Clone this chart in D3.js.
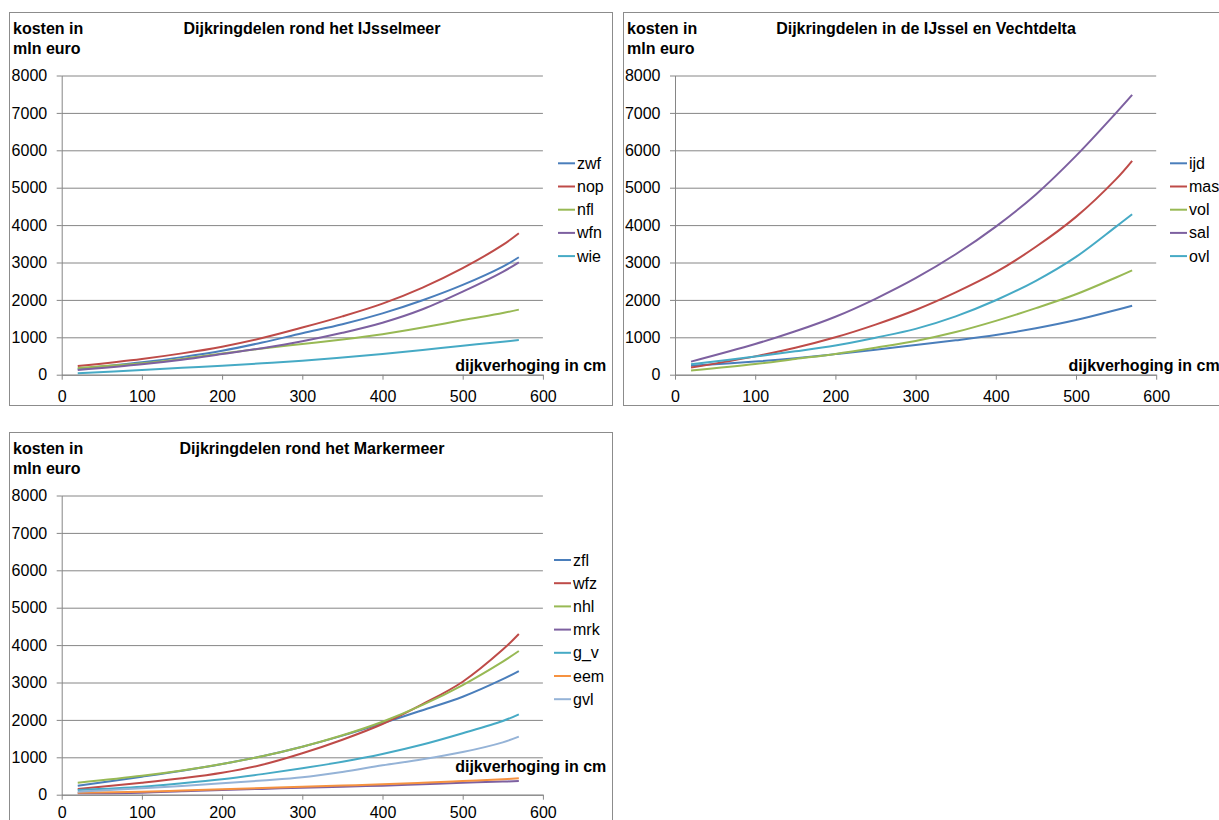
<!DOCTYPE html>
<html>
<head>
<meta charset="utf-8">
<script src="https://cdn.jsdelivr.net/npm/d3@7"></script>
<style>
  html, body { margin: 0; padding: 0; background: #fff; }
  svg { display: block; }
  text { font-family: "Liberation Sans", Arial, Helvetica, sans-serif; fill: #000; }
</style>
</head>
<body>
<svg id="chart" width="1219" height="820"></svg>
<script>
// Dike raise (cm) at which costs were computed
const dikeRaiseCm = [20, 100, 150, 200, 250, 300, 350, 400, 450, 500, 550, 570];

// Axis ticks
const costTicks = [0, 1000, 2000, 3000, 4000, 5000, 6000, 7000, 8000];
const raiseTicks = [0, 100, 200, 300, 400, 500, 600];

// Costs in million euro — dike ring sections around the IJsselmeer
const zwf = [150, 330, 470, 640, 860, 1110, 1350, 1640, 1990, 2400, 2890, 3140];
const nop = [230, 420, 570, 750, 980, 1260, 1560, 1900, 2330, 2850, 3470, 3780];
const nfl = [180, 305, 420, 565, 700, 820, 940, 1080, 1260, 1460, 1650, 1740];
const wfn = [125, 278, 400, 553, 710, 893, 1120, 1390, 1750, 2220, 2750, 3005];
const wie = [40, 126, 185, 241, 305, 374, 460, 553, 660, 776, 880, 928];

// IJssel and Vecht delta
const ijd = [240, 350, 440, 550, 665, 795, 920, 1060, 1240, 1460, 1730, 1845];
const mas = [190, 490, 720, 1000, 1340, 1730, 2200, 2740, 3420, 4220, 5230, 5720];
const vol = [110, 285, 420, 555, 720, 900, 1140, 1440, 1780, 2150, 2600, 2790];
const sal = [350, 820, 1160, 1550, 2030, 2580, 3220, 3960, 4820, 5850, 7000, 7480];
const ovl = [280, 485, 625, 780, 990, 1225, 1560, 1990, 2510, 3150, 3960, 4290];

// Around the Markermeer
const zfl = [241, 481, 640, 821, 1030, 1284, 1580, 1909, 2260, 2620, 3090, 3307];
const wfz = [152, 321, 440, 588, 800, 1107, 1470, 1890, 2420, 3021, 3880, 4297];
const nhl = [321, 508, 650, 821, 1030, 1284, 1590, 1952, 2400, 2933, 3560, 3842];
const mrk = [37, 53, 90, 126, 155, 187, 215, 241, 280, 321, 350, 366];
const g_v = [126, 214, 305, 412, 550, 706, 880, 1088, 1340, 1642, 1970, 2150];
const eem = [53, 80, 110, 144, 178, 214, 245, 278, 320, 366, 415, 438];
const gvl = [80, 171, 235, 305, 380, 465, 610, 785, 945, 1140, 1400, 1551];

const palette = ["#4A7EBB", "#BE4B48", "#98B954", "#7D60A0", "#46AAC5", "#F69240", "#95B3D7"];

const panels = [
  {
    title: "Dijkringdelen rond het IJsselmeer",
    box: { x: 9.5, y: 12.5, w: 603, h: 393 },
    axisX: 61.7, zeroY: 374.7, xLabelPad: 10.6,
    legend: { x: 558, y: 163.3 },
    xLabelY: 370.5,
    series: [["zwf", zwf], ["nop", nop], ["nfl", nfl], ["wfn", wfn], ["wie", wie]]
  },
  {
    title: "Dijkringdelen in de IJssel en Vechtdelta",
    box: { x: 623.5, y: 12.5, w: 603, h: 393 },
    axisX: 675, zeroY: 374.7, xLabelPad: 10.6,
    legend: { x: 1170, y: 163.3 },
    xLabelY: 370.5,
    series: [["ijd", ijd], ["mas", mas], ["vol", vol], ["sal", sal], ["ovl", ovl]]
  },
  {
    title: "Dijkringdelen rond het Markermeer",
    box: { x: 9.5, y: 432.5, w: 603, h: 393 },
    axisX: 61.7, zeroY: 794.7, xLabelPad: 7,
    legend: { x: 554, y: 560 },
    xLabelY: 771.7,
    series: [["zfl", zfl], ["wfz", wfz], ["nhl", nhl], ["mrk", mrk], ["g_v", g_v], ["eem", eem], ["gvl", gvl]]
  }
];

const svg = d3.select("#chart");
const gridColor = "#868686";
const plotW = 481.2, plotH = 299.2;

panels.forEach(p => {
  const g = svg.append("g");

  g.append("rect")
    .attr("x", p.box.x).attr("y", p.box.y)
    .attr("width", p.box.w).attr("height", p.box.h)
    .attr("fill", "#fff").attr("stroke", "#8c8c8c").attr("stroke-width", 1);

  const x = d3.scaleLinear().domain([0, 600]).range([p.axisX, p.axisX + plotW]);
  const y = d3.scaleLinear().domain([0, 8000]).range([p.zeroY, p.zeroY - plotH]);

  // horizontal gridlines
  g.append("g")
    .attr("transform", `translate(${p.axisX},0)`)
    .call(d3.axisLeft(y).tickValues(costTicks).tickSize(-plotW).tickFormat(""))
    .call(a => a.select(".domain").remove())
    .call(a => a.selectAll("line").attr("stroke", gridColor));

  // y axis with labels
  g.append("g")
    .attr("transform", `translate(${p.axisX},0)`)
    .call(d3.axisLeft(y).tickValues(costTicks).tickSize(5).tickSizeOuter(0).tickPadding(9.5).tickFormat(d3.format("d")))
    .call(a => a.select(".domain").attr("stroke", gridColor))
    .call(a => a.selectAll("line").attr("stroke", gridColor))
    .call(a => a.selectAll("text").attr("font-size", 16).attr("font-family", "Liberation Sans, Arial, sans-serif"));

  // x axis with labels
  g.append("g")
    .attr("transform", `translate(0,${p.zeroY})`)
    .call(d3.axisBottom(x).tickValues(raiseTicks).tickSize(5).tickSizeOuter(0).tickPadding(p.xLabelPad).tickFormat(d3.format("d")))
    .call(a => a.select(".domain").attr("stroke", gridColor))
    .call(a => a.selectAll("line").attr("stroke", gridColor))
    .call(a => a.selectAll("text").attr("font-size", 16).attr("font-family", "Liberation Sans, Arial, sans-serif"));

  // cost curves
  const line = d3.line()
    .x((d, i) => x(dikeRaiseCm[i]))
    .y(d => y(d))
    .curve(d3.curveCatmullRom.alpha(0.5));

  p.series.forEach(([name, vals], i) => {
    g.append("path")
      .datum(vals)
      .attr("d", line)
      .attr("fill", "none")
      .attr("stroke", palette[i])
      .attr("stroke-width", 2)
      .attr("stroke-linejoin", "round");
  });

  // titles
  g.append("text")
    .attr("x", p.box.x + p.box.w / 2 + 1).attr("y", p.box.y + 21.5)
    .attr("text-anchor", "middle")
    .attr("font-size", 16).attr("font-weight", "bold")
    .text(p.title);

  g.append("text")
    .attr("x", p.box.x + 3.5).attr("y", p.box.y + 21.5)
    .attr("font-size", 16).attr("font-weight", "bold")
    .text("kosten in");
  g.append("text")
    .attr("x", p.box.x + 3.5).attr("y", p.box.y + 41)
    .attr("font-size", 16).attr("font-weight", "bold")
    .text("mln euro");

  g.append("text")
    .attr("x", p.axisX + 393.5).attr("y", p.xLabelY)
    .attr("font-size", 16).attr("font-weight", "bold")
    .text("dijkverhoging in cm");

  // legend
  const leg = g.append("g");
  p.series.forEach(([name], i) => {
    const ly = p.legend.y + i * 23.2;
    leg.append("line")
      .attr("x1", p.legend.x).attr("x2", p.legend.x + 17)
      .attr("y1", ly).attr("y2", ly)
      .attr("stroke", palette[i]).attr("stroke-width", 2);
    leg.append("text")
      .attr("x", p.legend.x + 19).attr("y", ly + 5.5)
      .attr("font-size", 16)
      .text(name);
  });
});
</script>
</body>
</html>
